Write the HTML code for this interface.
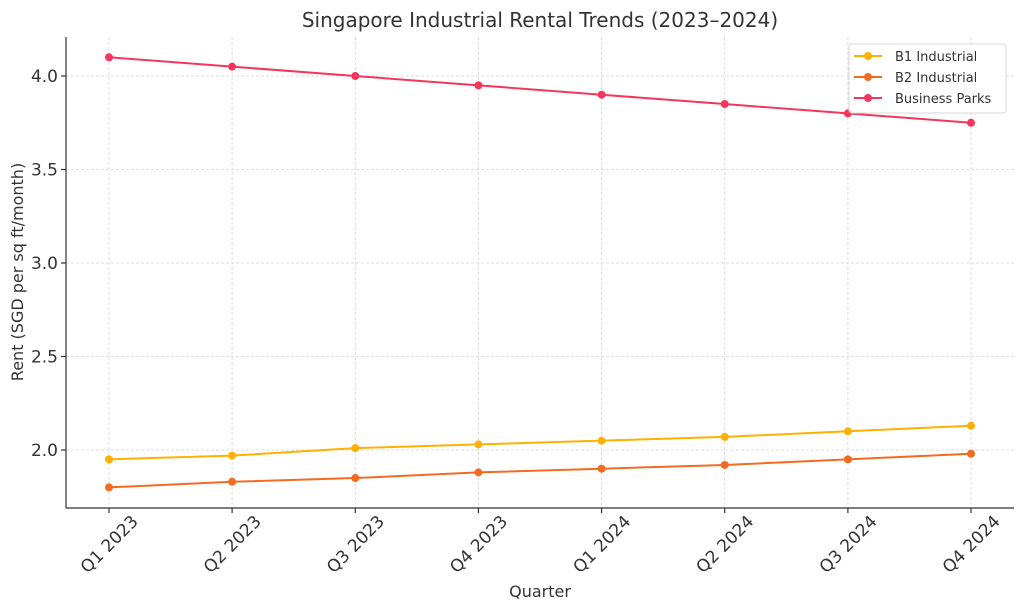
<!DOCTYPE html>
<html><head><meta charset="utf-8"><style>body{margin:0;background:#fff}svg{display:block;font-family:"DejaVu Sans","Liberation Sans",sans-serif}</style></head><body>
<svg width="1024" height="611" viewBox="0 0 1024 611">
<rect width="1024" height="611" fill="#fff"/>
<g stroke="#d4d4d4" stroke-dasharray="3,2" stroke-width="0.8">
<line x1="109" y1="37" x2="109" y2="508"/><line x1="232.1" y1="37" x2="232.1" y2="508"/><line x1="355.3" y1="37" x2="355.3" y2="508"/><line x1="478.4" y1="37" x2="478.4" y2="508"/><line x1="601.6" y1="37" x2="601.6" y2="508"/><line x1="724.7" y1="37" x2="724.7" y2="508"/><line x1="847.9" y1="37" x2="847.9" y2="508"/><line x1="971" y1="37" x2="971" y2="508"/>
<line x1="66" y1="450" x2="1014" y2="450"/><line x1="66" y1="356.5" x2="1014" y2="356.5"/><line x1="66" y1="263" x2="1014" y2="263"/><line x1="66" y1="169.5" x2="1014" y2="169.5"/><line x1="66" y1="76" x2="1014" y2="76"/>
</g>
<g stroke="#333" stroke-width="1.2" fill="none"><line x1="66" y1="37" x2="66" y2="508"/><line x1="66" y1="508" x2="1014" y2="508"/>
<line x1="61" y1="450" x2="66" y2="450"/><line x1="61" y1="356.5" x2="66" y2="356.5"/><line x1="61" y1="263" x2="66" y2="263"/><line x1="61" y1="169.5" x2="66" y2="169.5"/><line x1="61" y1="76" x2="66" y2="76"/>
<line x1="109" y1="508" x2="109" y2="513"/><line x1="232.1" y1="508" x2="232.1" y2="513"/><line x1="355.3" y1="508" x2="355.3" y2="513"/><line x1="478.4" y1="508" x2="478.4" y2="513"/><line x1="601.6" y1="508" x2="601.6" y2="513"/><line x1="724.7" y1="508" x2="724.7" y2="513"/><line x1="847.9" y1="508" x2="847.9" y2="513"/><line x1="971" y1="508" x2="971" y2="513"/></g>
<g font-size="17" fill="#333" text-anchor="end">
<text x="58" y="456">2.0</text><text x="58" y="362.5">2.5</text><text x="58" y="269">3.0</text><text x="58" y="175.5">3.5</text><text x="58" y="82">4.0</text>
</g>
<g font-size="17" fill="#333" text-anchor="middle">
<text transform="translate(109,544) rotate(-45)" dy="6">Q1 2023</text><text transform="translate(232.1,544) rotate(-45)" dy="6">Q2 2023</text><text transform="translate(355.3,544) rotate(-45)" dy="6">Q3 2023</text><text transform="translate(478.4,544) rotate(-45)" dy="6">Q4 2023</text><text transform="translate(601.6,544) rotate(-45)" dy="6">Q1 2024</text><text transform="translate(724.7,544) rotate(-45)" dy="6">Q2 2024</text><text transform="translate(847.9,544) rotate(-45)" dy="6">Q3 2024</text><text transform="translate(971,544) rotate(-45)" dy="6">Q4 2024</text>
</g>
<text x="540" y="597" font-size="16" fill="#333" text-anchor="middle">Quarter</text>
<text transform="translate(23,272) rotate(-90)" font-size="16" fill="#333" text-anchor="middle">Rent (SGD per sq ft/month)</text>
<text x="540" y="27" font-size="20" fill="#333" text-anchor="middle">Singapore Industrial Rental Trends (2023–2024)</text>
<g fill="none" stroke-width="2">
<polyline stroke="#f5365c" points="109,57.3 232.1,66.65 355.3,76 478.4,85.35 601.6,94.7 724.7,104.05 847.9,113.4 971,122.75"/>
<polyline stroke="#ffb000" points="109,459.35 232.1,455.6 355.3,448.1 478.4,444.4 601.6,440.65 724.7,436.9 847.9,431.3 971,425.7"/>
<polyline stroke="#f26b21" points="109,487.4 232.1,481.8 355.3,478.05 478.4,472.4 601.6,468.7 724.7,464.95 847.9,459.35 971,453.7"/>
</g>
<g fill="#f5365c"><circle cx="109" cy="57.3" r="4"/><circle cx="232.1" cy="66.65" r="4"/><circle cx="355.3" cy="76" r="4"/><circle cx="478.4" cy="85.35" r="4"/><circle cx="601.6" cy="94.7" r="4"/><circle cx="724.7" cy="104.05" r="4"/><circle cx="847.9" cy="113.4" r="4"/><circle cx="971" cy="122.75" r="4"/></g>
<g fill="#ffb000"><circle cx="109" cy="459.35" r="4"/><circle cx="232.1" cy="455.6" r="4"/><circle cx="355.3" cy="448.1" r="4"/><circle cx="478.4" cy="444.4" r="4"/><circle cx="601.6" cy="440.65" r="4"/><circle cx="724.7" cy="436.9" r="4"/><circle cx="847.9" cy="431.3" r="4"/><circle cx="971" cy="425.7" r="4"/></g>
<g fill="#f26b21"><circle cx="109" cy="487.4" r="4"/><circle cx="232.1" cy="481.8" r="4"/><circle cx="355.3" cy="478.05" r="4"/><circle cx="478.4" cy="472.4" r="4"/><circle cx="601.6" cy="468.7" r="4"/><circle cx="724.7" cy="464.95" r="4"/><circle cx="847.9" cy="459.35" r="4"/><circle cx="971" cy="453.7" r="4"/></g>
<rect x="849" y="44" width="157" height="69" rx="3" fill="#fff" fill-opacity="0.85" stroke="#d8d8d8"/>
<g stroke-width="2"><line x1="854" y1="56" x2="882" y2="56" stroke="#ffb000"/><line x1="854" y1="77" x2="882" y2="77" stroke="#f26b21"/><line x1="854" y1="98" x2="882" y2="98" stroke="#f5365c"/></g>
<circle cx="868" cy="56" r="4" fill="#ffb000"/><circle cx="868" cy="77" r="4" fill="#f26b21"/><circle cx="868" cy="98" r="4" fill="#f5365c"/>
<g font-size="13" fill="#333"><text x="895" y="61">B1 Industrial</text><text x="895" y="82">B2 Industrial</text><text x="895" y="103">Business Parks</text></g>
</svg>
</body></html>
